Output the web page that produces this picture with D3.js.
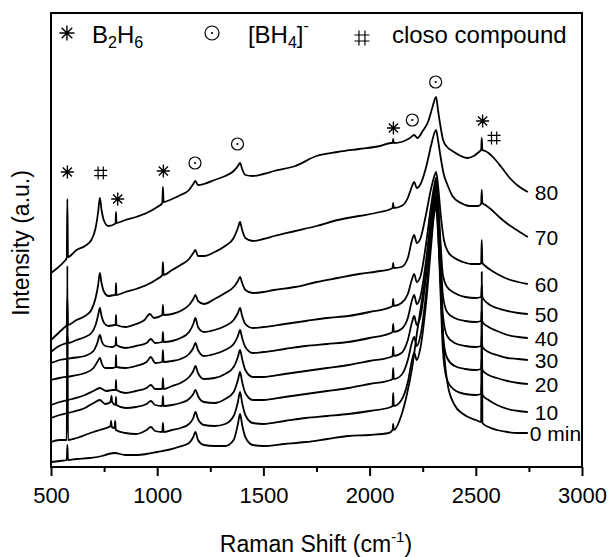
<!DOCTYPE html>
<html><head><meta charset="utf-8">
<script src="https://cdn.jsdelivr.net/npm/d3@7"></script>
<style>
body{margin:0;background:#fff}
svg text{font-family:"Liberation Sans",Arial,sans-serif;fill:#000}
</style>
</head><body>
<svg id="chart" width="610" height="557"></svg>
<script>
// ---------- DATA (wavenumber cm-1, intensity a.u.) ----------
const seriesLabels = ["80", "70", "60", "50", "40", "30", "20", "10", "0 min"];

const s80 = [[500,194],[530,199],[560,205],[574,209],[577,268],[580,210],[620,217],[660,221],[690,227],[710,239],[722,255],[730,269],[738,257],[750,246],[770,241],[800,243],[804,244],[806,255],[808,244],[850,247],[900,250],[950,254],[1000,260],[1024,264],[1027,280],[1030,265],[1070,268],[1110,272],[1150,277],[1170,283],[1180,286],[1192,282],[1220,283],[1270,287],[1320,291],[1360,296],[1380,301],[1390,304],[1400,298],[1415,292],[1450,291],[1500,293],[1550,296],[1650,301],[1750,311],[1850,315],[1950,318],[2050,321],[2100,324],[2108,324],[2111,328],[2114,324],[2150,325],[2190,329],[2210,332],[2225,329],[2250,336],[2275,345],[2295,359],[2313,370],[2322,357],[2335,339],[2346,327],[2365,320],[2390,316],[2430,311],[2460,309],[2490,311],[2520,316],[2525,317],[2528,329],[2531,317],[2545,316],[2560,314],[2585,309],[2620,300],[2660,289],[2700,281],[2745,275]];

const s70 = [[500,127],[530,133],[560,139],[574,142],[577,167],[580,142],[620,147],[660,151],[690,157],[710,169],[722,182],[730,194],[738,184],[750,175],[770,171],[800,172],[804,172],[806,184],[808,172],[850,175],[900,178],[950,182],[1000,188],[1024,192],[1027,205],[1030,192],[1070,197],[1110,202],[1150,208],[1170,214],[1180,217],[1192,211],[1220,211],[1270,215],[1320,221],[1360,229],[1380,239],[1390,245],[1400,237],[1415,229],[1450,226],[1500,228],[1550,231],[1650,236],[1750,241],[1850,247],[1950,251],[2050,255],[2100,258],[2108,259],[2111,264],[2114,259],[2150,261],[2180,269],[2200,281],[2210,285],[2222,279],[2240,283],[2265,299],[2290,322],[2305,334],[2313,337],[2322,327],[2335,309],[2350,292],[2365,283],[2390,271],[2430,264],[2470,261],[2510,261],[2525,263],[2528,277],[2531,264],[2545,262],[2570,258],[2610,250],[2650,243],[2700,236],[2745,230]];

const s60 = [[500,115],[530,120],[560,123],[574,124],[577,131],[580,124],[620,127],[660,130],[690,134],[710,142],[722,152],[730,159],[738,151],[750,144],[770,141],[800,142],[804,142],[806,152],[808,142],[850,140],[900,143],[940,147],[965,153],[985,149],[1024,152],[1027,162],[1030,152],[1070,153],[1110,156],[1150,162],[1170,168],[1180,172],[1192,166],[1220,163],[1270,168],[1320,174],[1360,180],[1380,186],[1390,190],[1400,184],[1415,177],[1450,174],[1500,175],[1550,177],[1650,180],[1750,185],[1850,189],[1950,193],[2050,196],[2100,198],[2108,199],[2111,204],[2114,199],[2150,200],[2180,209],[2200,227],[2210,232],[2222,224],[2240,229],[2265,252],[2290,279],[2305,291],[2313,295],[2322,282],[2335,252],[2350,227],[2370,215],[2400,209],[2440,205],[2480,203],[2520,203],[2525,204],[2528,227],[2531,204],[2545,201],[2570,197],[2610,192],[2650,188],[2700,185],[2745,183]];

const s50 = [[500,104],[540,107],[600,109],[660,111],[700,116],[718,124],[730,132],[740,125],[755,121],[790,120],[804,122],[806,130],[808,122],[850,119],[900,121],[950,124],[970,128],[990,124],[1024,125],[1027,135],[1030,125],[1070,126],[1110,129],[1150,135],[1170,143],[1180,149],[1192,140],[1220,135],[1270,137],[1320,141],[1360,147],[1380,154],[1390,159],[1400,151],[1415,143],[1450,139],[1500,140],[1600,143],[1700,146],[1800,149],[1900,151],[2000,155],[2100,160],[2108,161],[2111,168],[2114,161],[2150,164],[2180,173],[2200,188],[2210,193],[2222,185],[2240,191],[2265,222],[2290,262],[2305,282],[2313,289],[2322,269],[2332,232],[2345,192],[2365,180],[2400,174],[2450,170],[2500,169],[2525,170],[2528,182],[2531,170],[2560,163],[2600,159],[2650,156],[2700,154],[2745,153]];

const s40 = [[500,87],[540,89],[600,91],[660,94],[700,99],[718,105],[730,109],[740,103],[755,99],[790,99],[804,100],[806,112],[808,100],[850,99],[900,101],[950,105],[970,110],[990,104],[1024,105],[1027,117],[1030,105],[1070,106],[1110,108],[1150,113],[1170,119],[1180,124],[1192,117],[1220,111],[1270,113],[1320,117],[1360,123],[1380,131],[1390,137],[1400,129],[1415,120],[1450,114],[1500,115],[1600,118],[1700,121],[1800,123],[1900,125],[2000,129],[2100,134],[2108,135],[2111,143],[2114,135],[2150,138],[2180,149],[2200,167],[2210,172],[2222,163],[2240,171],[2265,205],[2290,252],[2305,275],[2313,284],[2322,262],[2332,222],[2345,172],[2365,155],[2400,149],[2450,146],[2500,145],[2525,146],[2528,157],[2531,145],[2560,140],[2600,136],[2650,132],[2700,130],[2745,129]];

const s30 = [[500,62],[540,65],[600,68],[660,72],[700,76],[730,79],[760,76],[790,77],[804,77],[806,87],[808,77],[850,74],[900,76],[950,79],[970,82],[990,78],[1024,78],[1027,89],[1030,78],[1070,81],[1110,84],[1150,90],[1170,96],[1180,101],[1192,94],[1220,88],[1270,89],[1320,93],[1360,100],[1380,110],[1390,117],[1400,108],[1415,97],[1450,90],[1500,90],[1600,93],[1700,96],[1800,99],[1900,102],[2000,106],[2100,110],[2108,111],[2111,120],[2114,111],[2150,114],[2180,127],[2200,145],[2210,151],[2222,142],[2240,151],[2265,189],[2290,242],[2305,269],[2313,279],[2322,255],[2332,209],[2345,152],[2365,131],[2400,124],[2450,121],[2500,120],[2525,121],[2528,132],[2531,120],[2560,115],[2600,112],[2650,109],[2700,108],[2745,107]];

const s20 = [[500,49],[540,52],[600,55],[660,59],[700,64],[730,67],[755,63],[780,65],[785,71],[788,65],[804,62],[806,70],[808,62],[850,59],[900,60],[950,63],[970,66],[990,62],[1024,61],[1027,71],[1030,61],[1070,62],[1110,64],[1150,68],[1170,73],[1180,77],[1192,71],[1220,65],[1270,64],[1320,68],[1360,75],[1380,87],[1390,95],[1400,85],[1415,74],[1450,67],[1500,67],[1600,70],[1700,73],[1800,76],[1900,79],[2000,83],[2100,87],[2108,88],[2111,99],[2114,88],[2150,92],[2180,107],[2200,125],[2210,130],[2222,121],[2240,132],[2265,172],[2290,229],[2305,262],[2313,272],[2322,247],[2332,197],[2345,132],[2365,109],[2400,101],[2450,98],[2500,97],[2525,98],[2528,109],[2531,97],[2560,92],[2600,89],[2650,86],[2700,84],[2745,83]];

const s10 = [[500,25],[540,27],[574,27],[577,201],[580,27],[620,29],[660,32],[700,35],[730,37],[760,39],[780,41],[783,46],[786,40],[799,39],[802,46],[805,37],[850,34],[900,33],[950,37],[970,40],[990,36],[1024,35],[1027,44],[1030,35],[1070,37],[1110,39],[1150,43],[1170,49],[1180,55],[1192,48],[1220,42],[1270,41],[1320,43],[1360,51],[1380,65],[1390,75],[1400,64],[1415,52],[1450,44],[1500,43],[1600,46],[1700,49],[1800,51],[1900,53],[2000,56],[2100,60],[2108,61],[2111,74],[2114,61],[2150,67],[2180,85],[2200,107],[2210,114],[2222,107],[2240,120],[2265,162],[2290,222],[2305,257],[2313,267],[2322,239],[2332,185],[2345,117],[2365,87],[2400,77],[2450,73],[2500,72],[2525,73],[2528,84],[2531,72],[2560,67],[2600,62],[2650,58],[2700,56],[2745,55]];

const s0 = [[500,5],[540,6],[574,7],[577,22],[580,7],[620,8],[680,9],[740,11],[770,13],[800,14],[850,12],[900,12],[950,13],[1000,15],[1050,17],[1100,20],[1150,24],[1170,30],[1180,35],[1192,27],[1220,22],[1270,21],[1320,21],[1360,27],[1380,43],[1390,53],[1400,42],[1415,30],[1450,22],[1500,21],[1600,23],[1700,25],[1800,28],[1900,31],[2000,32],[2090,34],[2108,37],[2111,43],[2114,37],[2150,52],[2175,72],[2200,99],[2225,137],[2250,172],[2275,209],[2295,242],[2305,254],[2313,260],[2322,235],[2335,184],[2350,117],[2368,82],[2400,62],[2440,53],[2500,47],[2525,45],[2528,195],[2531,44],[2560,40],[2600,37],[2650,35],[2700,34],[2745,34]];

const spectra = [s80, s70, s60, s50, s40, s30, s20, s10, s0];

const xTickValues = [500, 1000, 1500, 2000, 2500, 3000];
const xMinorTicks = [750, 1250, 1750, 2250, 2750];

// peak assignment markers: type, wavenumber, intensity
const markTypes = ["ast","hash","ast","ast","circ","circ","ast","circ","circ","ast","hash"];
const markX =     [577, 734, 814, 1029, 1178, 1378, 2112, 2201, 2311, 2532, 2586];
const markY =     [295, 294, 268, 296, 304, 323, 339, 347, 385, 346, 329];

// legend: marker type, marker position, text start
const legendTypes = ["ast", "circ", "hash"];
const legendMarkX = [575, 1258, 1964];
const legendTextX = [693, 1427, 2105];
const legendMarkY = 434;
const legendTextY = 424;

// ---------- DRAW ----------
const svg = d3.select("#chart");
const x = d3.scaleLinear().domain([500, 3000]).range([51, 582]);
const y = d3.scaleLinear().domain([0, 454]).range([467, 13]);

// spectra
const line = d3.line().x(d => x(d[0])).y(d => y(d[1])).curve(d3.curveMonotoneX);
svg.append("g").selectAll("path").data(spectra).join("path")
  .attr("d", line).attr("fill", "none").attr("stroke", "#000")
  .attr("stroke-width", 1.8).attr("stroke-linejoin", "round");

// series labels
svg.append("g").selectAll("text").data(spectra).join("text")
  .attr("x", (d, i) => x(d[d.length - 1][0]) + (i === spectra.length - 1 ? 2 : 7))
  .attr("y", d => y(d[d.length - 1][1]))
  .attr("dy", "0.36em").attr("font-size", 21)
  .text((d, i) => seriesLabels[i]);

// marker drawing
function drawMark(g, type, cx, cy, r) {
  if (type === "ast") {
    const a = r * Math.SQRT1_2;
    g.append("path")
      .attr("d", `M${cx - r},${cy}H${cx + r}M${cx},${cy - r}V${cy + r}M${cx - a},${cy - a}L${cx + a},${cy + a}M${cx - a},${cy + a}L${cx + a},${cy - a}`)
      .attr("stroke", "#000").attr("stroke-width", 1.4).attr("fill", "none");
  } else if (type === "circ") {
    g.append("circle").attr("cx", cx).attr("cy", cy).attr("r", r)
      .attr("fill", "none").attr("stroke", "#000").attr("stroke-width", 1.2);
    g.append("circle").attr("cx", cx).attr("cy", cy).attr("r", 1.1).attr("fill", "#000");
  } else {
    const h = r * 0.4;
    g.append("path")
      .attr("d", `M${cx - h},${cy - r}V${cy + r}M${cx + h},${cy - r}V${cy + r}M${cx - r},${cy - h}H${cx + r}M${cx - r},${cy + h}H${cx + r}`)
      .attr("stroke", "#000").attr("stroke-width", 1.2).attr("fill", "none");
  }
}
const mg = svg.append("g");
markTypes.forEach((t, i) => drawMark(mg, t, x(markX[i]), y(markY[i]), t === "circ" ? 6 : 6.5));

// legend
const lg = svg.append("g");
legendTypes.forEach((t, i) => drawMark(lg, t, x(legendMarkX[i]), y(legendMarkY) + (t === "hash" ? 5 : 0), t === "circ" ? 7 : 7.5));
const t1 = lg.append("text").attr("x", x(legendTextX[0])).attr("y", y(legendTextY)).attr("font-size", 24);
t1.append("tspan").text("B");
t1.append("tspan").attr("font-size", 16).attr("dy", 5).text("2");
t1.append("tspan").attr("dy", -5).text("H");
t1.append("tspan").attr("font-size", 16).attr("dy", 5).text("6");
const t2 = lg.append("text").attr("x", x(legendTextX[1])).attr("y", y(legendTextY)).attr("font-size", 24);
t2.append("tspan").text("[BH");
t2.append("tspan").attr("font-size", 16).attr("dy", 5).text("4");
t2.append("tspan").attr("dy", -5).text("]");
t2.append("tspan").attr("font-size", 16).attr("dy", -12).text("-");
lg.append("text").attr("x", x(legendTextX[2])).attr("y", y(legendTextY)).attr("font-size", 24).text("closo compound");

// frame
svg.append("rect").attr("x", 51).attr("y", 13).attr("width", 531).attr("height", 454)
  .attr("fill", "none").attr("stroke", "#000").attr("stroke-width", 2);

// x axis
const ax = svg.append("g").attr("transform", `translate(0,${y(0)})`)
  .call(d3.axisBottom(x).tickValues(xTickValues).tickFormat(d3.format("d")).tickSizeInner(9).tickSizeOuter(0).tickPadding(11));
ax.select(".domain").remove();
ax.selectAll(".tick line").attr("stroke", "#000").attr("stroke-width", 2);
ax.selectAll(".tick text").attr("font-size", 22).attr("font-family", "Liberation Sans, Arial, sans-serif").attr("fill", "#000");
const minor = svg.append("g").attr("transform", `translate(0,${y(0)})`)
  .call(d3.axisBottom(x).tickValues(xMinorTicks).tickSizeInner(5).tickSizeOuter(0).tickFormat(""));
minor.select(".domain").remove();
minor.selectAll(".tick line").attr("stroke", "#000").attr("stroke-width", 2);

// axis titles
const xt = svg.append("text").attr("x", 316).attr("y", 552).attr("text-anchor", "middle").attr("font-size", 23);
xt.append("tspan").text("Raman Shift (cm");
xt.append("tspan").attr("font-size", 15).attr("dy", -10).text("-1");
xt.append("tspan").attr("dy", 10).text(")");
svg.append("text").attr("transform", "translate(29,243) rotate(-90)").attr("text-anchor", "middle")
  .attr("font-size", 23).text("Intensity (a.u.)");
</script>
</body></html>
